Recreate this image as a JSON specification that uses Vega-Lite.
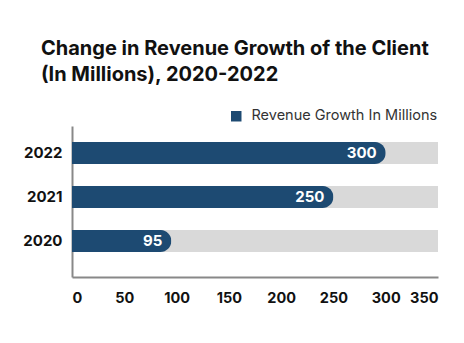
{
  "$schema": "https://vega.github.io/schema/vega-lite/v6.json",
  "width": 366,
  "height": 151,
  "autosize": {"type": "none"},
  "padding": {"left": 72, "top": 126, "right": 26, "bottom": 66},
  "background": "white",
  "title": {
    "text": ["Change in Revenue Growth of the Client", "(In Millions), 2020-2022"],
    "anchor": "start",
    "frame": "group",
    "dx": -31,
    "offset": 24,
    "font": "Inter",
    "fontSize": 20,
    "fontWeight": "bold",
    "color": "#111111",
    "lineHeight": 26
  },
  "config": {
    "view": {"stroke": null},
    "font": "Inter"
  },
  "data": {
    "values": [
      {"year": "2022", "value": 300, "series": "Revenue Growth In Millions"},
      {"year": "2021", "value": 250, "series": "Revenue Growth In Millions"},
      {"year": "2020", "value": 95, "series": "Revenue Growth In Millions"}
    ]
  },
  "encoding": {
    "y": {
      "field": "year",
      "type": "nominal",
      "sort": "descending",
      "scale": {"paddingInner": 0.5, "paddingOuter": 0.466, "align": 0.39},
      "axis": {
        "title": null,
        "ticks": false,
        "domainColor": "#888888",
        "domainWidth": 2,
        "labelFont": "Inter",
        "labelFontSize": 15,
        "labelFontWeight": "bold",
        "labelColor": "#111111",
        "labelPadding": 10
      }
    }
  },
  "layer": [
    {
      "mark": {"type": "bar", "color": "#d9d9d9"},
      "encoding": {
        "x": {
          "datum": 350,
          "type": "quantitative",
          "scale": {"domain": [0, 350], "nice": false},
          "axis": {
            "title": null,
            "values": [0, 50, 100, 150, 200, 250, 300, 350],
            "ticks": false,
            "grid": false,
            "domainColor": "#888888",
            "domainWidth": 2,
            "labelFont": "Inter",
            "labelFontSize": 14.5,
            "labelFontWeight": "bold",
            "labelColor": "#111111",
            "labelPadding": 14,
            "labelFlush": true
          }
        }
      }
    },
    {
      "mark": {"type": "bar", "cornerRadiusEnd": 11},
      "encoding": {
        "x": {"field": "value", "type": "quantitative"},
        "color": {
          "field": "series",
          "type": "nominal",
          "scale": {"range": ["#1d4a72"]},
          "legend": {
            "title": null,
            "orient": "none",
            "legendX": 157,
            "legendY": -17,
            "symbolType": "square",
            "symbolSize": 110,
            "symbolStrokeWidth": 0,
            "labelFont": "Inter",
            "labelFontSize": 14.5,
            "labelColor": "#333333",
            "labelOffset": 8,
            "labelLimit": 0
          }
        }
      }
    },
    {
      "mark": {"type": "text", "align": "right", "dx": -9, "color": "white", "font": "Inter", "fontSize": 15, "fontWeight": "bold"},
      "encoding": {
        "x": {"field": "value", "type": "quantitative"},
        "text": {"field": "value", "type": "quantitative"}
      }
    }
  ]
}
